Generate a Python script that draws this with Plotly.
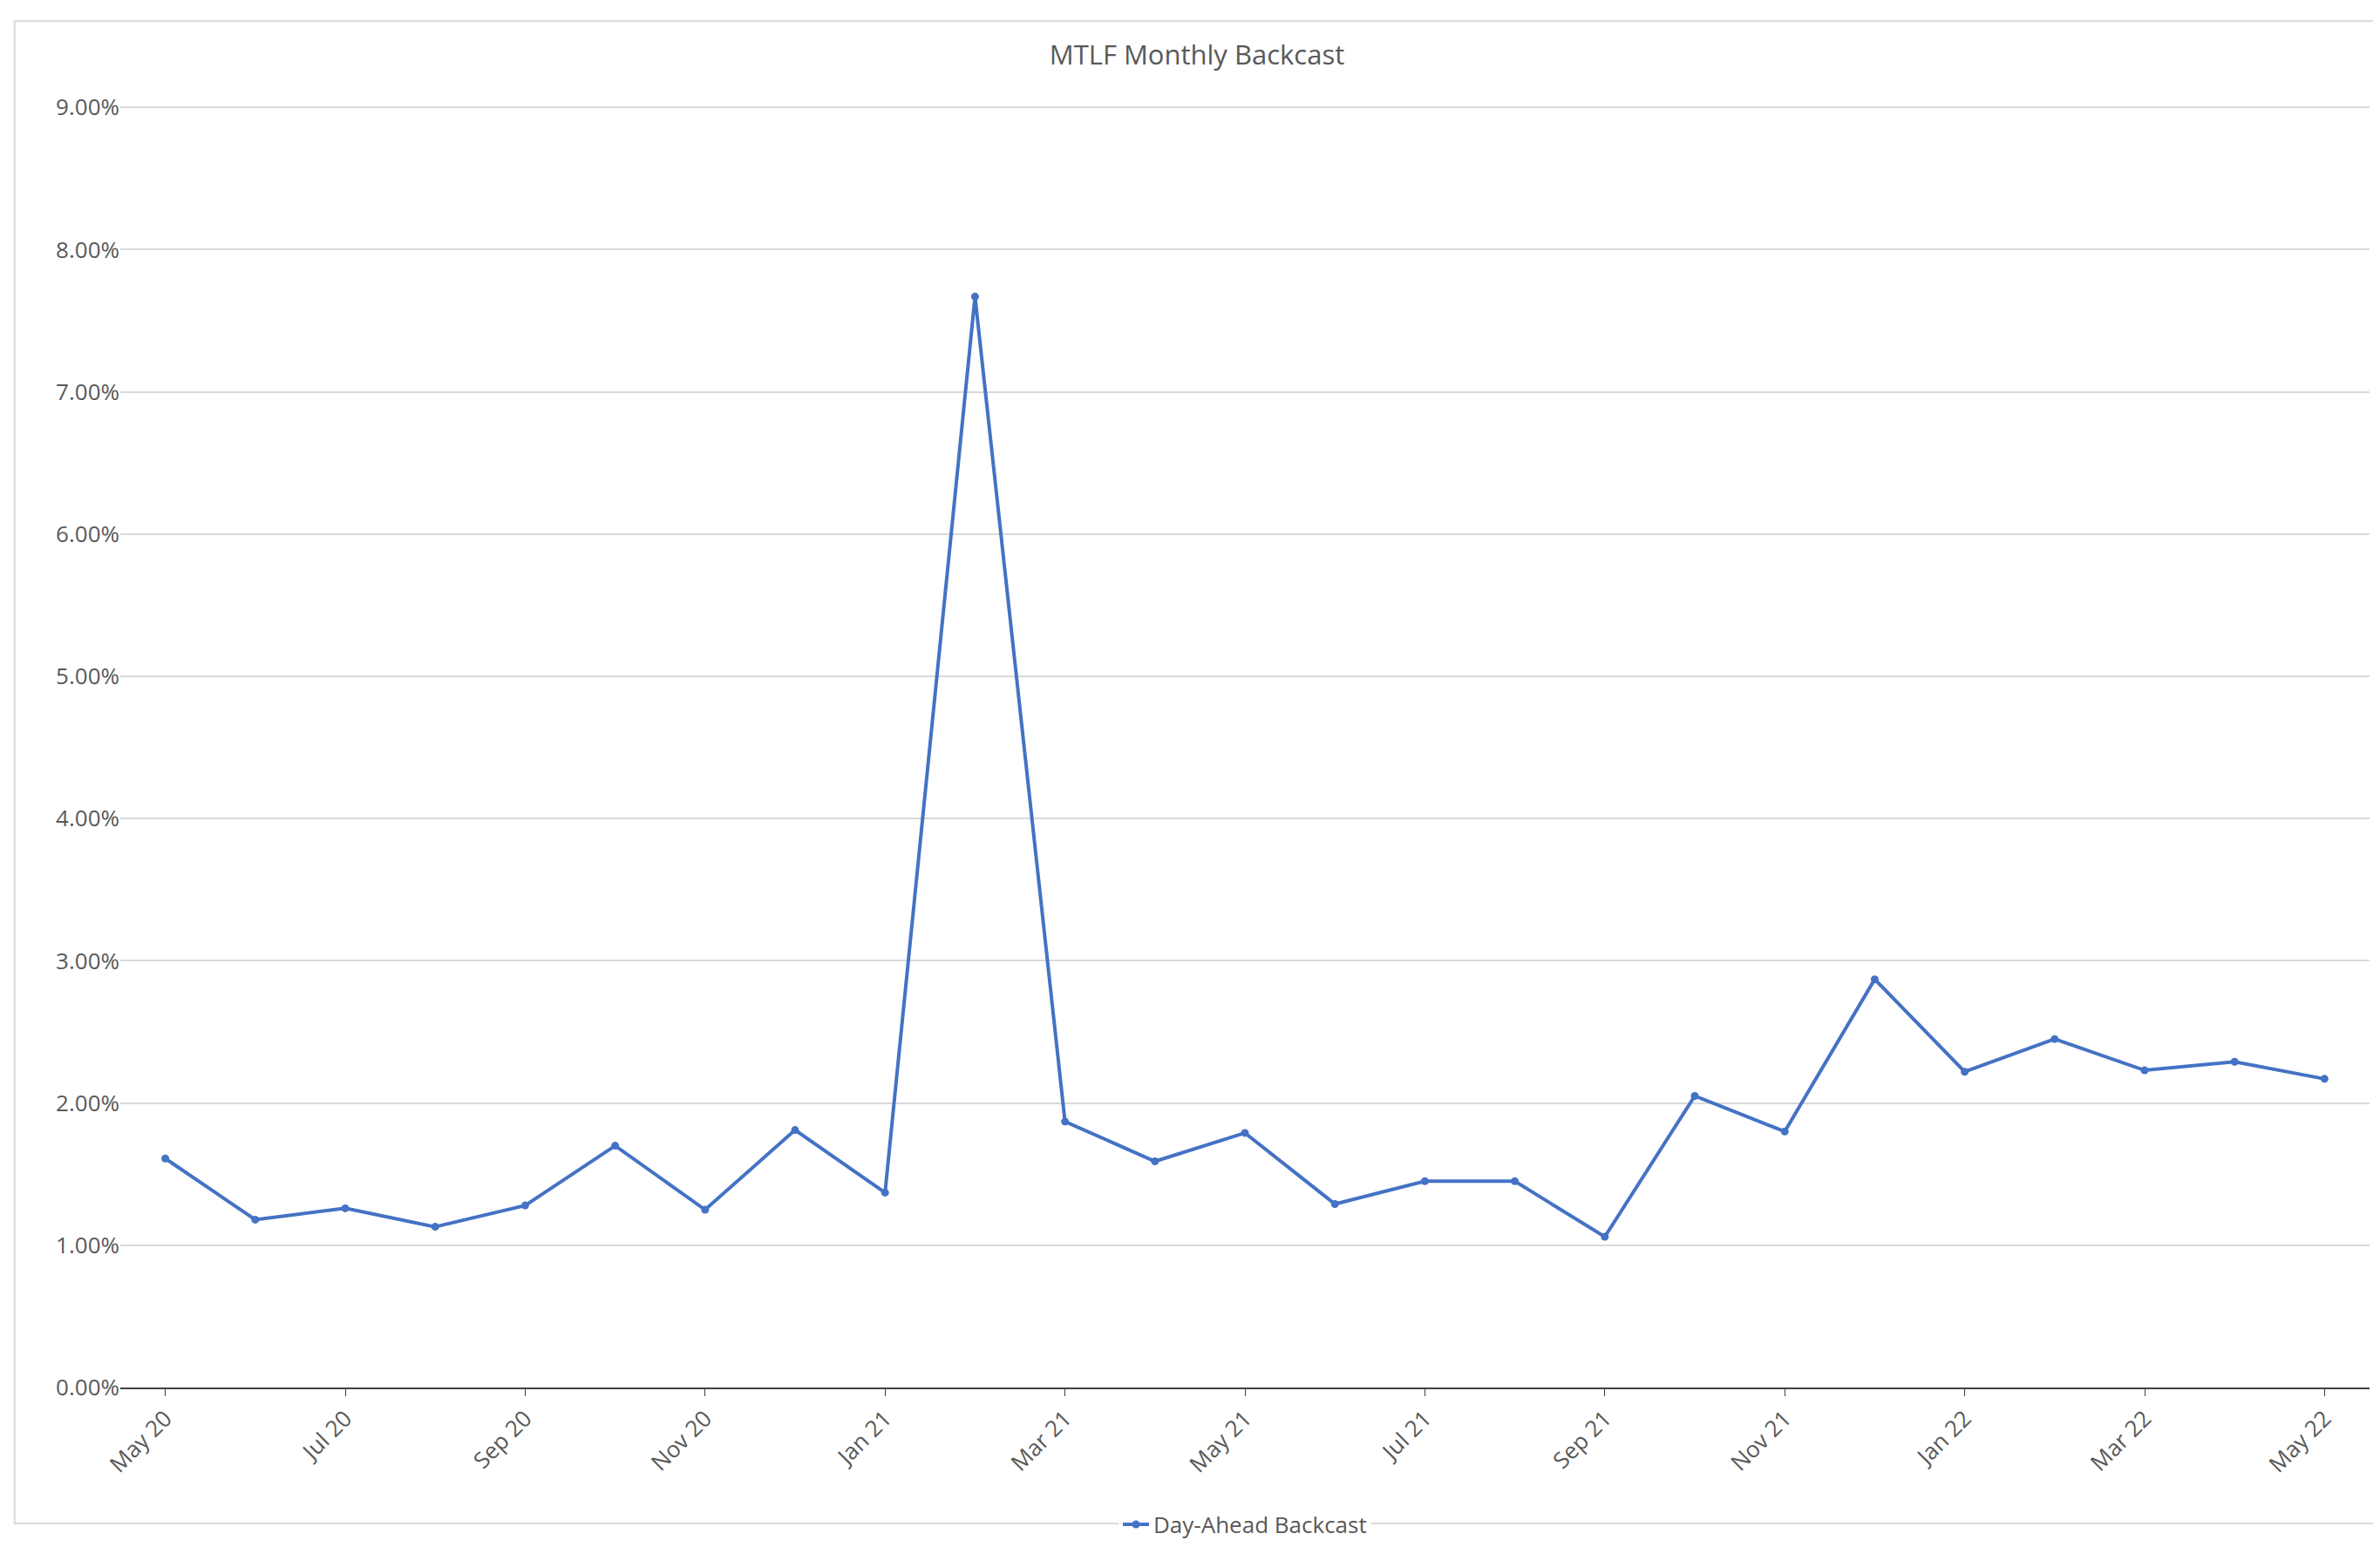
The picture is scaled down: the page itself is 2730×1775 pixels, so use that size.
import plotly.graph_objects as go

months = ["May 20", "Jun 20", "Jul 20", "Aug 20", "Sep 20", "Oct 20", "Nov 20", "Dec 20",
          "Jan 21", "Feb 21", "Mar 21", "Apr 21", "May 21", "Jun 21", "Jul 21", "Aug 21",
          "Sep 21", "Oct 21", "Nov 21", "Dec 21", "Jan 22", "Feb 22", "Mar 22", "Apr 22",
          "May 22"]
backcast = [1.61, 1.18, 1.26, 1.13, 1.28, 1.70, 1.25, 1.81, 1.37, 7.67, 1.87, 1.59, 1.79,
            1.29, 1.45, 1.45, 1.06, 2.05, 1.80, 2.87, 2.22, 2.45, 2.23, 2.29, 2.17]
backcast = [v / 100 for v in backcast]

blue = "#4472C4"
fig = go.Figure()
fig.add_trace(go.Scatter(x=months, y=backcast, mode="lines+markers", name="Day-Ahead Backcast",
                         showlegend=True,
                         line=dict(color=blue, width=4), marker=dict(size=9, color=blue)))

fig.update_layout(
    width=2730, height=1775,
    paper_bgcolor="white", plot_bgcolor="white",
    font=dict(family="Open Sans, Noto Sans, sans-serif", color="#595959", size=26),
    title=dict(text="MTLF Monthly Backcast", x=0.5, y=0.975, xanchor="center",
               font=dict(size=31, color="#595959")),
    margin=dict(l=130, r=20, t=112, b=190),
    legend=dict(orientation="h", x=0.5, xanchor="center", y=-0.09, yanchor="top",
                font=dict(size=26)),
    xaxis=dict(type="category", range=[-0.5, len(months) - 0.5],
               tickvals=months[::2], tickangle=-45,
               showgrid=False, showline=True, linecolor="#404040", linewidth=2,
               ticks="outside", ticklen=8, tickcolor="#404040"),
    yaxis=dict(range=[0, 0.0902], dtick=0.01, tickformat=".2%", gridcolor="#D9D9D9",
               gridwidth=2, zeroline=False, ticks=""),
    shapes=[dict(type="rect", xref="paper", yref="paper", x0=-0.047, y0=-0.106,
                 x1=1.0065, y1=1.065, line=dict(color="#D9D9D9", width=2))],
)

fig.write_html("out.html")
